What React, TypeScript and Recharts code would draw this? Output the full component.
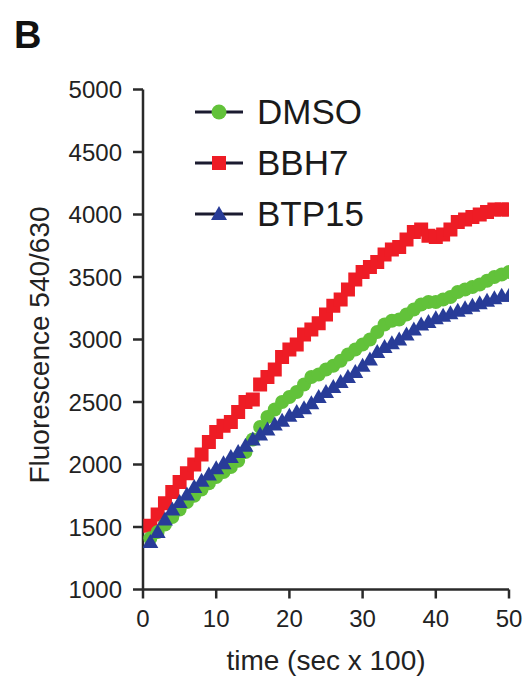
import React from 'react';
import { ScatterChart, Scatter, XAxis, YAxis, Customized } from 'recharts';

const TIME = [1,2,3,4,5,6,7,8,9,10,11,12,13,14,15,16,17,18,19,20,21,22,23,24,25,26,27,28,29,30,31,32,33,34,35,36,37,38,39,40,41,42,43,44,45,46,47,48,49,50];
const DMSO = [1410,1460,1520,1580,1640,1700,1750,1800,1850,1900,1940,1980,2030,2100,2200,2300,2380,2440,2500,2540,2580,2640,2700,2720,2760,2790,2830,2880,2920,2960,3000,3060,3120,3150,3160,3200,3240,3280,3300,3300,3320,3340,3380,3400,3420,3440,3470,3500,3520,3540];
const BBH7 = [1510,1600,1690,1780,1860,1930,2000,2080,2180,2260,2310,2340,2420,2500,2520,2640,2700,2760,2860,2920,2960,3040,3080,3130,3200,3270,3320,3400,3480,3540,3580,3620,3680,3720,3740,3800,3860,3880,3830,3820,3840,3880,3940,3960,3980,4000,4020,4040,4040,4040];
const BTP15 = [1380,1460,1560,1640,1700,1760,1820,1870,1920,1970,2010,2060,2100,2150,2200,2240,2280,2320,2350,2390,2420,2450,2490,2540,2580,2620,2660,2700,2740,2790,2840,2900,2940,2970,3000,3040,3080,3120,3140,3170,3190,3210,3230,3250,3270,3290,3310,3330,3350,3350];
const Y_TICKS = [1000,1500,2000,2500,3000,3500,4000,4500,5000];
const X_TICKS = [0,10,20,30,40,50];
const SERIES_NAMES = ['DMSO', 'BBH7', 'BTP15'];

const GREEN = '#62c23a';
const RED = '#ee1c25';
const BLUE = '#283c98';
const AXIS = '#2a2a2a';
const FONT = 'Liberation Sans, Arial, Helvetica, sans-serif';

const toData = (vals: number[]) => TIME.map((t, i) => ({ t, v: vals[i] }));

const Circle = (p: any) => <circle cx={p.cx} cy={p.cy} r={7} fill={GREEN} />;
const Square = (p: any) => <rect x={p.cx - 7} y={p.cy - 7} width={14} height={14} fill={RED} />;
const Tri = (p: any) => (
  <polygon points={`${p.cx},${p.cy - 8} ${p.cx + 8},${p.cy + 6} ${p.cx - 8},${p.cy + 6}`} fill={BLUE} />
);

const Labels = () => {
  const rows = [
    { name: SERIES_NAMES[0], y: 112, color: GREEN, kind: 'c' },
    { name: SERIES_NAMES[1], y: 163, color: RED, kind: 's' },
    { name: SERIES_NAMES[2], y: 214, color: BLUE, kind: 't' },
  ];
  return (
    <g>
      <text x={14} y={48} fontSize={38} fontWeight="bold" fontFamily={FONT} fill="#111">B</text>
      <text
        x={0}
        y={0}
        transform="translate(49,345) rotate(-90)"
        textAnchor="middle"
        fontSize={28}
        fontFamily={FONT}
        fill="#222"
      >
        Fluorescence 540/630
      </text>
      <text x={326} y={670} textAnchor="middle" fontSize={28} fontFamily={FONT} fill="#222">
        time (sec x 100)
      </text>
      {rows.map((r) => (
        <g key={r.name}>
          <line x1={195} x2={243} y1={r.y} y2={r.y} stroke="#1b1b30" strokeWidth={3} />
          {r.kind === 'c' && <circle cx={219} cy={r.y} r={7.5} fill={r.color} />}
          {r.kind === 's' && <rect x={212} y={r.y - 7} width={14} height={14} fill={r.color} />}
          {r.kind === 't' && (
            <polygon points={`219,${r.y - 8} 227,${r.y + 6} 211,${r.y + 6}`} fill={r.color} />
          )}
          <text x={257} y={r.y + 12} fontSize={35} fontFamily={FONT} fill="#1a1a1a">{r.name}</text>
        </g>
      ))}
    </g>
  );
};

export default function App() {
  const tickStyle = { fill: '#222', fontSize: 24, fontFamily: FONT };
  return (
    <div style={{ position: 'absolute', left: 0, top: 0, background: '#fff' }}>
      <ScatterChart
        width={529}
        height={677}
        margin={{ top: 89.5, right: 20, bottom: 47.5, left: 63 }}
      >
        <XAxis
          type="number"
          dataKey="t"
          domain={[0, 50]}
          ticks={X_TICKS}
          height={40}
          axisLine={{ stroke: AXIS, strokeWidth: 2.5 }}
          tickLine={{ stroke: AXIS, strokeWidth: 2.5 }}
          tickSize={9}
          tickMargin={11}
          tick={tickStyle}
          allowDataOverflow
        />
        <YAxis
          type="number"
          dataKey="v"
          domain={[1000, 5000]}
          ticks={Y_TICKS}
          width={80}
          axisLine={{ stroke: AXIS, strokeWidth: 2.5 }}
          tickLine={{ stroke: AXIS, strokeWidth: 2.5 }}
          tickSize={10}
          tickMargin={11}
          tick={tickStyle}
          interval={0}
          allowDataOverflow
        />
        <Scatter name={SERIES_NAMES[1]} data={toData(BBH7)} shape={Square} isAnimationActive={false} />
        <Scatter name={SERIES_NAMES[0]} data={toData(DMSO)} shape={Circle} isAnimationActive={false} />
        <Scatter name={SERIES_NAMES[2]} data={toData(BTP15)} shape={Tri} isAnimationActive={false} />
        <Customized component={Labels} />
      </ScatterChart>
    </div>
  );
}
